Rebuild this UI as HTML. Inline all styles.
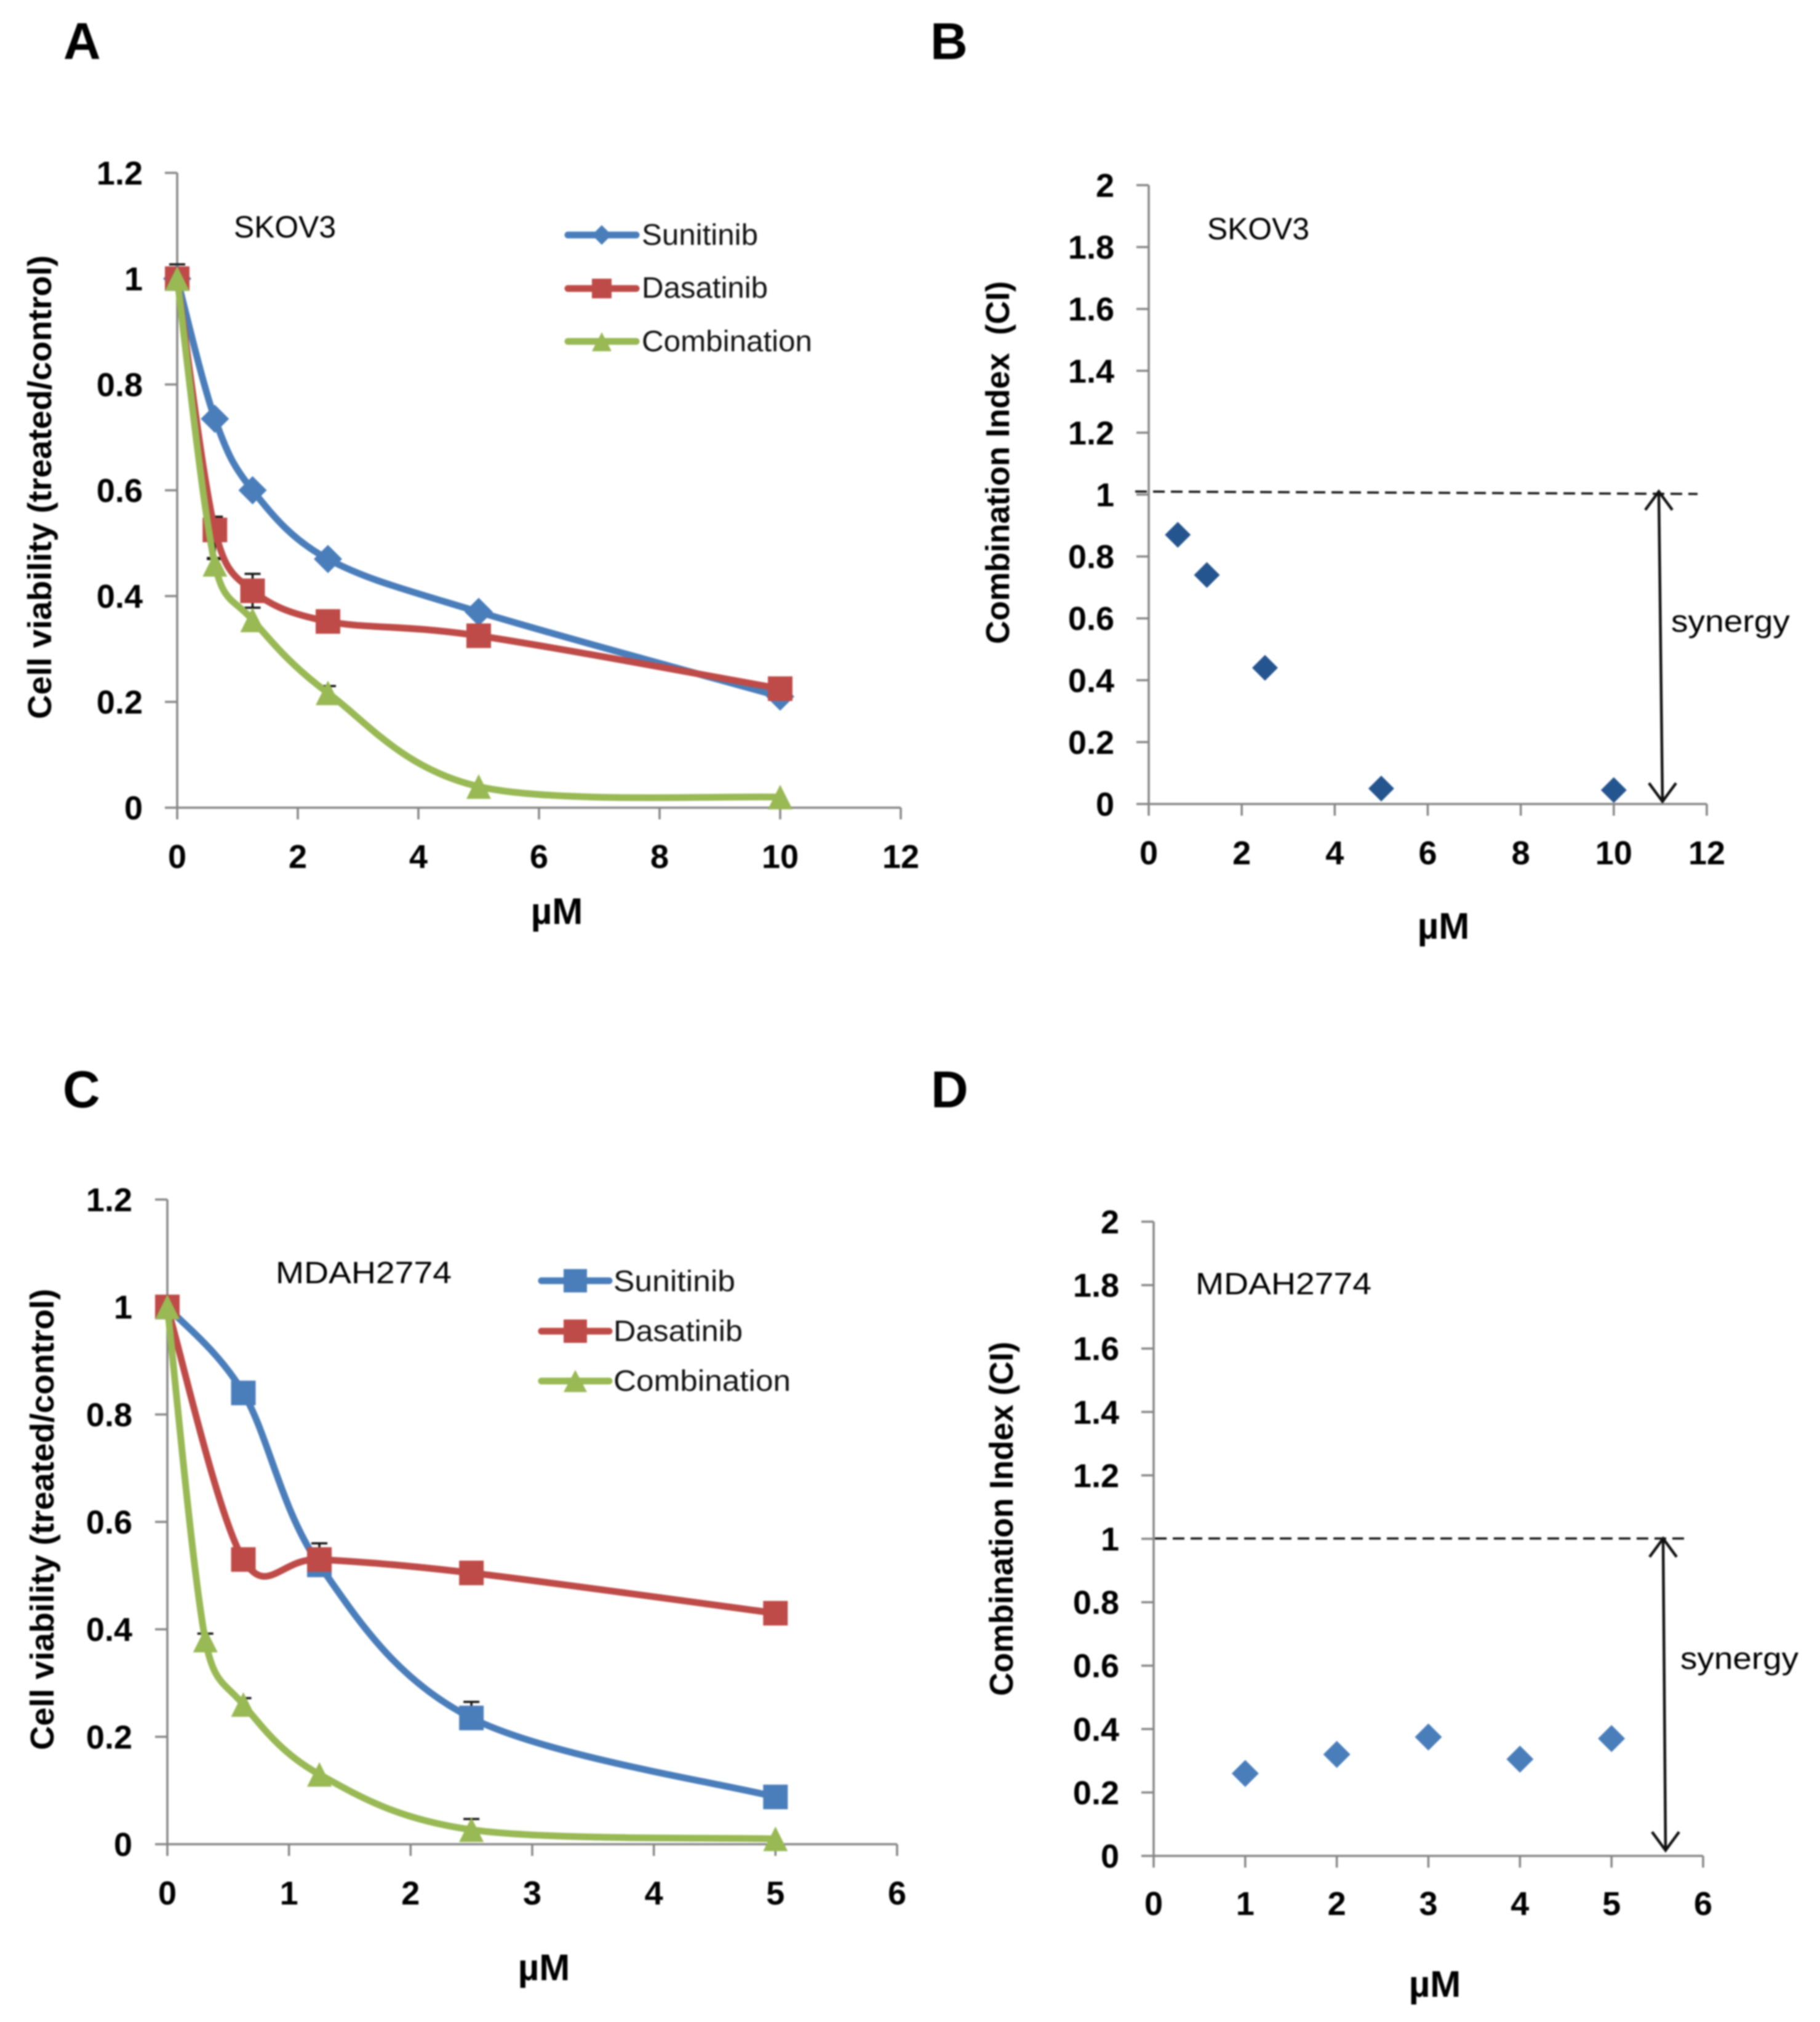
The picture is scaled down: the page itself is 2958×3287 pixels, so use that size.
<!DOCTYPE html>
<html lang="en">
<head>
<meta charset="utf-8">
<title>Cell viability and combination index charts</title>
<style>
html,body{margin:0;padding:0;background:#fff;}
#figure{display:block;width:2958px;height:3287px;filter:blur(1.2px);}
text{font-family:"Liberation Sans",sans-serif;fill:#000;}
.tick{font-weight:bold;font-size:54px;}
.title{font-weight:bold;font-size:54px;}
.unit{font-weight:bold;font-size:60px;}
.panel{font-weight:bold;font-size:84px;}
.note{font-size:50px;}
.legend{font-size:48px;fill:#111;}
</style>
</head>
<body>
<svg id="figure" xmlns="http://www.w3.org/2000/svg" width="2958" height="3287" viewBox="0 0 2958 3287">
  <rect x="0" y="0" width="2958" height="3287" fill="#fff"/>
  <text class="panel" x="103" y="96">A</text>
  <text class="panel" x="1512" y="96">B</text>
  <text class="panel" x="102" y="1800">C</text>
  <text class="panel" x="1513" y="1800">D</text>

  <text class="title" transform="translate(83,1169) rotate(-90)" textLength="754" lengthAdjust="spacingAndGlyphs">Cell viability (treated/control)</text>
  <text class="title" transform="translate(1640,1047) rotate(-90)" textLength="590" lengthAdjust="spacingAndGlyphs">Combination Index&#160;&#160;(CI)</text>
  <text class="title" transform="translate(87,2845) rotate(-90)" textLength="750" lengthAdjust="spacingAndGlyphs">Cell viability (treated/control)</text>
  <text class="title" transform="translate(1646,2757) rotate(-90)" textLength="576" lengthAdjust="spacingAndGlyphs">Combination Index (CI)</text>

  <text class="unit" x="905" y="1502" text-anchor="middle">µM</text>
  <text class="unit" x="2346" y="1526" text-anchor="middle">µM</text>
  <text class="unit" x="884" y="3219" text-anchor="middle">µM</text>
  <text class="unit" x="2332" y="3246" text-anchor="middle">µM</text>

  <text class="note" x="380" y="386" textLength="166" lengthAdjust="spacingAndGlyphs">SKOV3</text>
  <text class="note" x="1962" y="389" textLength="166" lengthAdjust="spacingAndGlyphs">SKOV3</text>
  <text class="note" x="448" y="2086" textLength="286" lengthAdjust="spacingAndGlyphs">MDAH2774</text>
  <text class="note" x="1943" y="2104" textLength="286" lengthAdjust="spacingAndGlyphs">MDAH2774</text>

  <text class="note" x="2716" y="1027" textLength="193" lengthAdjust="spacingAndGlyphs">synergy</text>
  <text class="note" x="2731" y="2713" textLength="192" lengthAdjust="spacingAndGlyphs">synergy</text>

  <line x1="1845" y1="799" x2="2759" y2="803" stroke="#111" stroke-width="3.5" stroke-dasharray="19 10"/>
  <line x1="1877" y1="2501" x2="2738" y2="2501" stroke="#111" stroke-width="3.5" stroke-dasharray="19 10"/>

  <path d="M2696 801L2702 1301M2674 829L2696 799L2718 829M2680 1273L2702 1303L2724 1273" fill="none" stroke="#111" stroke-width="4.5"/>
  <path d="M2703 2503L2707 3006M2681 2531L2703 2501L2725 2531M2685 2978L2707 3008L2729 2978" fill="none" stroke="#111" stroke-width="4.5"/>

  <g id="plots"></g>

  <g id="legend-a">
    <line x1="923" y1="382" x2="1034" y2="382" stroke="#4a7ebb" stroke-width="11" stroke-linecap="round"/>
    <polygon points="978,366 994,382 978,398 962,382" fill="#4a7ebb"/>
    <text class="legend" x="1043" y="398" textLength="189" lengthAdjust="spacingAndGlyphs">Sunitinib</text>
    <line x1="923" y1="469" x2="1034" y2="469" stroke="#be4b48" stroke-width="11" stroke-linecap="round"/>
    <rect x="962" y="453" width="32" height="32" fill="#be4b48"/>
    <text class="legend" x="1043" y="484" textLength="205" lengthAdjust="spacingAndGlyphs">Dasatinib</text>
    <line x1="923" y1="555" x2="1034" y2="555" stroke="#98b954" stroke-width="11" stroke-linecap="round"/>
    <polygon points="978,540 994,571 962,571" fill="#98b954"/>
    <text class="legend" x="1043" y="571" textLength="277" lengthAdjust="spacingAndGlyphs">Combination</text>
  </g>
  <g id="legend-c">
    <line x1="880" y1="2082" x2="990" y2="2082" stroke="#4a7ebb" stroke-width="11" stroke-linecap="round"/>
    <rect x="916" y="2063" width="38" height="38" fill="#4a7ebb"/>
    <text class="legend" x="997" y="2099" textLength="198" lengthAdjust="spacingAndGlyphs">Sunitinib</text>
    <line x1="880" y1="2164" x2="990" y2="2164" stroke="#be4b48" stroke-width="11" stroke-linecap="round"/>
    <rect x="916" y="2145" width="38" height="38" fill="#be4b48"/>
    <text class="legend" x="997" y="2180" textLength="210" lengthAdjust="spacingAndGlyphs">Dasatinib</text>
    <line x1="880" y1="2245" x2="990" y2="2245" stroke="#98b954" stroke-width="11" stroke-linecap="round"/>
    <polygon points="935,2227 954,2263 916,2263" fill="#98b954"/>
    <text class="legend" x="997" y="2261" textLength="288" lengthAdjust="spacingAndGlyphs">Combination</text>
  </g>
</svg>
<script>
// Panel A data
const xTicksA = ['0', '2', '4', '6', '8', '10', '12'];
const yTicksA = ['0', '0.2', '0.4', '0.6', '0.8', '1', '1.2'];
const dosesA = [0, 0.625, 1.25, 2.5, 5, 10];
const sunitinibA = [1, 0.735, 0.6, 0.47, 0.37, 0.21];
const dasatinibA = [1, 0.525, 0.41, 0.352, 0.325, 0.225];
const combinationA = [1, 0.46, 0.355, 0.217, 0.04, 0.02];
const dasatinibErrUpA = [0.027, 0.025, 0.032, 0, 0, 0];
const dasatinibErrDownA = [0, 0.055, 0.032, 0, 0, 0];
const combinationErrUpA = [0, 0.012, 0, 0.013, 0, 0];
const noErrA = [0, 0, 0, 0, 0, 0];

// Panel B data
const xTicksB = ['0', '2', '4', '6', '8', '10', '12'];
const yTicksB = ['0', '0.2', '0.4', '0.6', '0.8', '1', '1.2', '1.4', '1.6', '1.8', '2'];
const dosesB = [0.625, 1.25, 2.5, 5, 10];
const ciB = [0.87, 0.74, 0.44, 0.05, 0.045];

// Panel C data
const xTicksC = ['0', '1', '2', '3', '4', '5', '6'];
const yTicksC = ['0', '0.2', '0.4', '0.6', '0.8', '1', '1.2'];
const dosesC = [0, 0.625, 1.25, 2.5, 5];
const dosesCombinationC = [0, 0.3125, 0.625, 1.25, 2.5, 5];
const sunitinibC = [1, 0.84, 0.52, 0.235, 0.088];
const dasatinibC = [1, 0.53, 0.53, 0.505, 0.43];
const combinationC = [1, 0.38, 0.26, 0.13, 0.027, 0.01];
const sunitinibErrUpC = [0, 0, 0, 0.03, 0];
const dasatinibErrUpC = [0, 0, 0.03, 0, 0];
const combinationErrUpC = [0, 0.012, 0.012, 0, 0.02, 0];
const noErrC = [0, 0, 0, 0, 0];
const noErrCombinationC = [0, 0, 0, 0, 0, 0];

// Panel D data
const xTicksD = ['0', '1', '2', '3', '4', '5', '6'];
const yTicksD = ['0', '0.2', '0.4', '0.6', '0.8', '1', '1.2', '1.4', '1.6', '1.8', '2'];
const dosesD = [1, 2, 3, 4, 5];
const ciD = [0.26, 0.32, 0.375, 0.305, 0.37];

const SVGNS = 'http://www.w3.org/2000/svg';
const plots = document.getElementById('plots');
const BLUE = '#4a7ebb', RED = '#be4b48', GREEN = '#98b954', AXIS = '#868686';

function make(parent, tag, attrs) {
  const el = document.createElementNS(SVGNS, tag);
  for (const k in attrs) el.setAttribute(k, attrs[k]);
  parent.appendChild(el);
  return el;
}

function scales(box, xTicks, yTicks) {
  const xMax = parseFloat(xTicks[xTicks.length - 1]);
  const yMax = parseFloat(yTicks[yTicks.length - 1]);
  return {
    x: function (v) { return box.x0 + (v / xMax) * (box.x1 - box.x0); },
    y: function (v) { return box.y0 - (v / yMax) * (box.y0 - box.y1); }
  };
}

function drawAxes(id, box, s, xTicks, yTicks) {
  const g = make(plots, 'g', {});
  
  
  const yAxis = make(g, 'line', { x1: box.x0, y1: box.y1, x2: box.x0, y2: box.y0, stroke: AXIS, 'stroke-width': 3.5 });
  
  
  const xAxis = make(g, 'line', { x1: box.x0, y1: box.y0, x2: box.x1, y2: box.y0, stroke: AXIS, 'stroke-width': 3.5 });
  
  
  yTicks.forEach(function (label) {
    const v = parseFloat(label);
    const py = s.y(v);
    const mark = make(g, 'line', { x1: box.x0 - 20, y1: py, x2: box.x0, y2: py, stroke: AXIS, 'stroke-width': 3.5 });
    
    
    const t = make(g, 'text', { class: 'tick', x: box.yLabelRight, y: py + 19, 'text-anchor': 'end' });
    
    
    t.textContent = label;
  });
  xTicks.forEach(function (label) {
    const v = parseFloat(label);
    const px = s.x(v);
    const mark = make(g, 'line', { x1: px, y1: box.y0, x2: px, y2: box.y0 + 19, stroke: AXIS, 'stroke-width': 3.5 });
    
    
    const t = make(g, 'text', { class: 'tick', x: px, y: box.xLabelBase, 'text-anchor': 'middle' });
    
    
    t.textContent = label;
  });
}

function limited(dx, dy, maxLen) {
  const len = Math.sqrt(dx * dx + dy * dy);
  const k = len > maxLen && len > 0 ? maxLen / len : 1;
  return [dx * k, dy * k];
}

function smoothPath(pts) {
  let d = 'M' + pts[0][0] + ' ' + pts[0][1];
  for (let i = 0; i < pts.length - 1; i++) {
    const p0 = pts[Math.max(i - 1, 0)];
    const p1 = pts[i];
    const p2 = pts[i + 1];
    const p3 = pts[Math.min(i + 2, pts.length - 1)];
    const seg = Math.sqrt(Math.pow(p2[0] - p1[0], 2) + Math.pow(p2[1] - p1[1], 2));
    const a = limited((p2[0] - p0[0]) / 6, (p2[1] - p0[1]) / 6, 0.6 * seg);
    const b = limited((p3[0] - p1[0]) / 6, (p3[1] - p1[1]) / 6, 0.6 * seg);
    d += 'C' + (p1[0] + a[0]) + ' ' + (p1[1] + a[1]) + ' ' + (p2[0] - b[0]) + ' ' + (p2[1] - b[1]) + ' ' + p2[0] + ' ' + p2[1];
  }
  return d;
}

function drawMarker(g, shape, px, py, size, color, name) {
  let el;
  const h = size / 2;
  if (shape === 'square') {
    el = make(g, 'rect', { x: px - h, y: py - h, width: size, height: size, fill: color });
  } else if (shape === 'diamond') {
    el = make(g, 'polygon', { points: px + ',' + (py - h) + ' ' + (px + h) + ',' + py + ' ' + px + ',' + (py + h) + ' ' + (px - h) + ',' + py, fill: color });
  } else {
    el = make(g, 'polygon', { points: px + ',' + (py - h) + ' ' + (px + h) + ',' + (py + h) + ' ' + (px - h) + ',' + (py + h), fill: color });
  }
  
  
}

function drawErrors(id, seriesName, s, xs, ys, errsUp, errsDown) {
  const g = make(plots, 'g', {});
  
  
  xs.forEach(function (v, i) {
    if (!errsUp[i] && !errsDown[i]) return;
    const px = s.x(v);
    const top = s.y(ys[i] + errsUp[i]);
    const bottom = s.y(ys[i] - errsDown[i]);
    let d = 'M' + px + ' ' + top + 'L' + px + ' ' + bottom;
    if (errsUp[i]) d += 'M' + (px - 13) + ' ' + top + 'L' + (px + 13) + ' ' + top;
    if (errsDown[i]) d += 'M' + (px - 13) + ' ' + bottom + 'L' + (px + 13) + ' ' + bottom;
    const bar = make(g, 'path', { d: d, fill: 'none', stroke: '#111', 'stroke-width': 3.5 });
    
    
  });
}

function drawLine(id, seriesName, s, xs, ys, color, shape, size) {
  const pts = xs.map(function (v, i) { return [s.x(v), s.y(ys[i])]; });
  const g = make(plots, 'g', {});
  
  
  const path = make(g, 'path', { d: smoothPath(pts), fill: 'none', stroke: color, 'stroke-width': 11, 'stroke-linejoin': 'round' });
  
  
  pts.forEach(function (p) {
    drawMarker(g, shape, p[0], p[1], size, color, 'point-' + seriesName);
  });
}

function drawScatter(id, s, xs, ys, color, size) {
  const g = make(plots, 'g', {});
  
  
  xs.forEach(function (v, i) {
    drawMarker(g, 'diamond', s.x(v), s.y(ys[i]), size, color, 'point-ci');
  });
}

const boxA = { x0: 288, x1: 1464, y0: 1313, y1: 281, yLabelRight: 232, xLabelBase: 1411 };
const boxB = { x0: 1867, x1: 2774, y0: 1307, y1: 301, yLabelRight: 1811, xLabelBase: 1405 };
const boxC = { x0: 272, x1: 1458, y0: 2998, y1: 1950, yLabelRight: 215, xLabelBase: 3096 };
const boxD = { x0: 1875, x1: 2768, y0: 3017, y1: 1986, yLabelRight: 1819, xLabelBase: 3113 };

const sA = scales(boxA, xTicksA, yTicksA);
drawAxes('a', boxA, sA, xTicksA, yTicksA);
drawErrors('a', 'dasatinib', sA, dosesA, dasatinibA, dasatinibErrUpA, dasatinibErrDownA);
drawErrors('a', 'combination', sA, dosesA, combinationA, combinationErrUpA, noErrA);
drawLine('a', 'sunitinib', sA, dosesA, sunitinibA, BLUE, 'diamond', 46);
drawLine('a', 'dasatinib', sA, dosesA, dasatinibA, RED, 'square', 40);
drawLine('a', 'combination', sA, dosesA, combinationA, GREEN, 'triangle', 40);

const sB = scales(boxB, xTicksB, yTicksB);
drawAxes('b', boxB, sB, xTicksB, yTicksB);
drawScatter('b', sB, dosesB, ciB, '#25558f', 42);

const sC = scales(boxC, xTicksC, yTicksC);
drawAxes('c', boxC, sC, xTicksC, yTicksC);
drawErrors('c', 'sunitinib', sC, dosesC, sunitinibC, sunitinibErrUpC, noErrC);
drawErrors('c', 'dasatinib', sC, dosesC, dasatinibC, dasatinibErrUpC, noErrC);
drawErrors('c', 'combination', sC, dosesCombinationC, combinationC, combinationErrUpC, noErrCombinationC);
drawLine('c', 'sunitinib', sC, dosesC, sunitinibC, BLUE, 'square', 40);
drawLine('c', 'dasatinib', sC, dosesC, dasatinibC, RED, 'square', 40);
drawLine('c', 'combination', sC, dosesCombinationC, combinationC, GREEN, 'triangle', 40);

const sD = scales(boxD, xTicksD, yTicksD);
drawAxes('d', boxD, sD, xTicksD, yTicksD);
drawScatter('d', sD, dosesD, ciD, BLUE, 44);
</script>
</body>
</html>
